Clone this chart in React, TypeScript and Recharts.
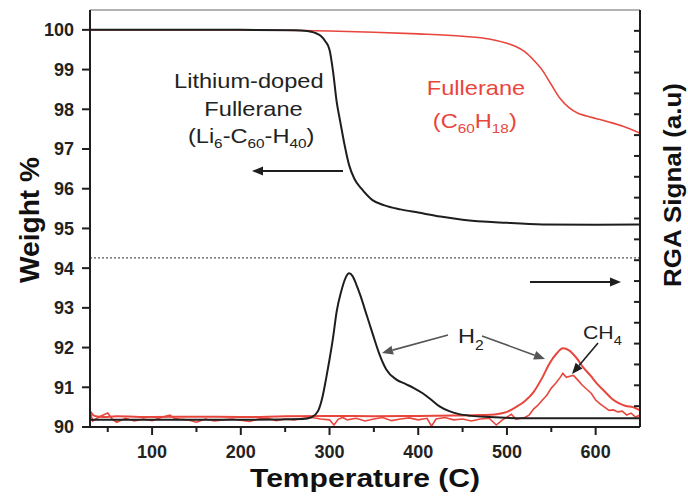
import { LineChart, Line, XAxis, YAxis, ReferenceLine } from "recharts";

// TGA weight loss, Li-doped fullerane (black)
const liTgaT = [30, 100, 200, 260, 275, 283, 290, 295, 300, 304, 308, 312, 317, 322, 328, 336, 348, 362, 380, 400, 425, 450, 500, 540, 600, 650];
const liTgaW = [100, 100, 100, 99.99, 99.97, 99.93, 99.85, 99.72, 99.5, 98.95, 98.2, 97.7, 97.1, 96.6, 96.25, 96.0, 95.72, 95.58, 95.48, 95.4, 95.3, 95.22, 95.14, 95.1, 95.09, 95.1];

// TGA weight loss, fullerane C60H18 (red)
const fuTgaT = [30, 150, 250, 300, 350, 400, 450, 480, 500, 510, 520, 530, 540, 550, 560, 570, 580, 590, 600, 615, 630, 650];
const fuTgaW = [100, 100, 99.99, 99.97, 99.94, 99.9, 99.84, 99.77, 99.66, 99.58, 99.45, 99.24, 98.98, 98.62, 98.27, 98.04, 97.9, 97.83, 97.77, 97.68, 97.58, 97.4];

// RGA H2 signal, Li-doped (black)
const liH2T = [30, 100, 200, 270, 280, 287, 292, 296, 300, 304, 308, 313, 318, 322, 326, 330, 335, 340, 345, 350, 356, 364, 375, 386, 395, 405, 415, 424, 435, 445, 460, 480, 520, 650];
const liH2S = [90.18, 90.18, 90.18, 90.2, 90.25, 90.4, 90.75, 91.2, 91.7, 92.25, 92.9, 93.4, 93.75, 93.87, 93.8, 93.6, 93.3, 92.95, 92.6, 92.25, 91.85, 91.45, 91.2, 91.08, 90.98, 90.85, 90.68, 90.52, 90.4, 90.33, 90.28, 90.25, 90.22, 90.22];

// RGA H2 signal, fullerane (red)
const fuH2T = [30, 35, 45, 60, 100, 150, 200, 250, 300, 350, 400, 440, 470, 490, 500, 510, 520, 530, 540, 548, 556, 563, 570, 578, 586, 594, 602, 610, 618, 626, 634, 642, 650];
const fuH2S = [90.4, 90.28, 90.25, 90.27, 90.25, 90.26, 90.25, 90.27, 90.28, 90.27, 90.28, 90.29, 90.3, 90.33, 90.38, 90.5, 90.65, 90.88, 91.25, 91.6, 91.85, 91.98, 91.93, 91.75, 91.5, 91.3, 91.08, 90.9, 90.72, 90.6, 90.53, 90.5, 90.42];

// RGA CH4 signal, fullerane (red, noisy)
const fuCh4T = [30, 33, 40, 50, 55, 60, 70, 80, 90, 100, 110, 120, 125, 130, 140, 150, 160, 170, 180, 190, 200, 210, 220, 230, 240, 250, 260, 270, 280, 290, 300, 305, 310, 315, 320, 330, 340, 350, 360, 370, 380, 390, 400, 410, 415, 420, 430, 440, 450, 460, 470, 480, 488, 495, 500, 505, 510, 520, 525, 530, 535, 540, 545, 550, 555, 560, 563, 567, 571, 575, 580, 585, 590, 595, 600, 605, 610, 615, 620, 625, 630, 635, 640, 645, 650];
const fuCh4S = [90.4, 90.15, 90.25, 90.35, 90.2, 90.12, 90.22, 90.15, 90.2, 90.16, 90.24, 90.3, 90.22, 90.2, 90.18, 90.12, 90.2, 90.15, 90.18, 90.2, 90.17, 90.14, 90.2, 90.22, 90.16, 90.2, 90.18, 90.22, 90.24, 90.2, 90.18, 90.05, 90.2, 90.24, 90.18, 90.22, 90.15, 90.2, 90.24, 90.16, 90.2, 90.23, 90.18, 90.22, 90.02, 90.2, 90.24, 90.18, 90.2, 90.15, 90.2, 90.22, 90.05, 90.18, 90.25, 90.32, 90.2, 90.24, 90.3, 90.45, 90.55, 90.68, 90.8, 90.98, 91.1, 91.25, 91.35, 91.25, 91.28, 91.3, 91.18, 91.05, 90.95, 90.85, 90.68, 90.58, 90.5, 90.42, 90.43, 90.38, 90.4, 90.3, 90.35, 90.25, 90.3];

const xTicks = [50, 100, 150, 200, 250, 300, 350, 400, 450, 500, 550, 600];
const wTicks = [90, 90.5, 91, 91.5, 92, 92.5, 93, 93.5, 94, 94.5, 95, 95.5, 96, 96.5, 97, 97.5, 98, 98.5, 99, 99.5, 100];
// unlabelled RGA axis ticks (arbitrary units)
const rgaTicks = [90.525, 91.05, 91.575, 92.1, 92.625, 93.15, 93.675, 94.2, 94.725, 95.25, 95.775, 96.3, 96.825, 97.35, 97.875, 98.4, 98.925, 99.45, 99.975];

const zip = (t: number[], v: number[]) => t.map((x, i) => ({ t: x, v: v[i] }));

const RED = "#e8463d";
const INK = "#1e1e1e";
const FONT = "Arial, 'Liberation Sans', sans-serif";

const XTick = ({ x, y, payload }: any) => {
  const v = payload.value;
  const major = v % 100 === 0;
  const ay = y - 18;
  return (
    <g>
      <line x1={x} x2={x} y1={ay} y2={ay + (major ? 8 : 5)} stroke={INK} strokeWidth={2} />
      {major && (
        <text x={x} y={y} dy="0.71em" textAnchor="middle" fontFamily={FONT} fontWeight="bold" fontSize={18} fill="#222">
          {v}
        </text>
      )}
    </g>
  );
};

const WTick = ({ x, y, payload }: any) => {
  const v = payload.value;
  const major = Number.isInteger(v);
  const ax = x + 16;
  return (
    <g>
      <line x1={ax} x2={ax - (major ? 8 : 5)} y1={y} y2={y} stroke={INK} strokeWidth={2} />
      {major && (
        <text x={x} y={y} dy="0.36em" textAnchor="end" fontFamily={FONT} fontWeight="bold" fontSize={18} fill="#222">
          {v}
        </text>
      )}
    </g>
  );
};

// right axis ticks point inward; label x sits tickMargin right of the axis
const RTick = ({ x, y }: any) => {
  const ax = x - 4;
  return (
    <g>
      <line x1={ax} x2={ax - 6} y1={y} y2={y} stroke={INK} strokeWidth={2} />
    </g>
  );
};

const Arrow = ({ x1, y1, x2, y2, color, w = 2 }: any) => {
  const a = Math.atan2(y2 - y1, x2 - x1);
  const L = 11, H = 4.5;
  const bx = x2 - L * Math.cos(a), by = y2 - L * Math.sin(a);
  const px = -Math.sin(a) * H, py = Math.cos(a) * H;
  return (
    <g>
      <line x1={x1} y1={y1} x2={bx} y2={by} stroke={color} strokeWidth={w} />
      <polygon points={`${x2},${y2} ${bx + px},${by + py} ${bx - px},${by - py}`} fill={color} />
    </g>
  );
};

// the source figure is a bit stretched horizontally
const Wide = ({ cx, k = 1.18, children }: any) => (
  <g transform={`matrix(${k},0,0,1,${cx * (1 - k)},0)`}>{children}</g>
);

const Overlay = () => (
  <svg width={688} height={496} style={{ position: "absolute", left: 0, top: 0, pointerEvents: "none" }}>
    <Wide cx={250}>
      <g fontFamily={FONT} fontSize={20} fill="#222" textAnchor="middle">
        <text x={249} y={88}>Lithium-doped</text>
        <text x={253} y={116}>Fullerane</text>
        <text x={251} y={143}>
          (Li<tspan fontSize={13} dy={5}>6</tspan>
          <tspan dy={-5}>-C</tspan>
          <tspan fontSize={13} dy={5}>60</tspan>
          <tspan dy={-5}>-H</tspan>
          <tspan fontSize={13} dy={5}>40</tspan>
          <tspan dy={-5}>)</tspan>
        </text>
      </g>
    </Wide>
    <Wide cx={476}>
      <g fontFamily={FONT} fontSize={20} fill={RED} textAnchor="middle">
        <text x={476} y={95}>Fullerane</text>
        <text x={475} y={128}>
          (C<tspan fontSize={13} dy={5}>60</tspan>
          <tspan dy={-5}>H</tspan>
          <tspan fontSize={13} dy={5}>18</tspan>
          <tspan dy={-5}>)</tspan>
        </text>
      </g>
    </Wide>
    <Arrow x1={343} y1={171} x2={252} y2={171} color={INK} />
    <Arrow x1={530} y1={282} x2={621} y2={282} color={INK} />
    <Wide cx={458} k={1.12}>
      <text x={458} y={343} fontFamily={FONT} fontSize={21} fill="#222">
        H<tspan fontSize={14} dy={7}>2</tspan>
      </text>
    </Wide>
    <Arrow x1={448} y1={335} x2={382} y2={353} color="#555" w={1.6} />
    <Arrow x1={482} y1={336} x2={545} y2={359} color="#555" w={1.6} />
    <Wide cx={583} k={1.12}>
      <text x={583} y={339} fontFamily={FONT} fontSize={19} fill="#222">
        CH<tspan fontSize={13} dy={6}>4</tspan>
      </text>
    </Wide>
    <Arrow x1={598} y1={343} x2={572} y2={374} color={INK} w={1.6} />
    <text x={365} y={487} textAnchor="middle" fontFamily={FONT} fontWeight="bold" fontSize={26} fill="#111" textLength={230} lengthAdjust="spacingAndGlyphs">
      Temperature (C)
    </text>
    <text transform="translate(39,220) rotate(-90)" textAnchor="middle" fontFamily={FONT} fontWeight="bold" fontSize={27} fill="#111" textLength={126} lengthAdjust="spacingAndGlyphs">
      Weight %
    </text>
    <text transform="translate(681,185) rotate(-90)" textAnchor="middle" fontFamily={FONT} fontWeight="bold" fontSize={24} fill="#111" textLength={204} lengthAdjust="spacingAndGlyphs">
      RGA Signal (a.u)
    </text>
  </svg>
);

export default function App() {
  return (
    <div style={{ position: "absolute", left: 0, top: 0, width: 688, height: 496, background: "#fff" }}>
      <LineChart width={688} height={496} margin={{ top: 10, right: 18, bottom: 29, left: 30 }}>
        <XAxis
          type="number"
          dataKey="t"
          domain={[30, 650]}
          ticks={xTicks}
          allowDataOverflow
          height={40}
          tickLine={false}
          tickSize={0}
          tickMargin={18}
          tick={(p: any) => <XTick {...p} />}
          axisLine={{ stroke: INK, strokeWidth: 2 }}
        />
        <YAxis
          yAxisId="w"
          type="number"
          domain={[90, 100.5]}
          ticks={wTicks}
          allowDataOverflow
          width={60}
          tickLine={false}
          tickSize={0}
          tickMargin={16}
          tick={(p: any) => <WTick {...p} />}
          axisLine={{ stroke: INK, strokeWidth: 2 }}
        />
        <YAxis
          yAxisId="r"
          orientation="right"
          type="number"
          domain={[90, 100.5]}
          ticks={rgaTicks}
          interval={0}
          allowDataOverflow
          width={30}
          tickLine={false}
          tickSize={0}
          tickMargin={4}
          tick={(p: any) => <RTick {...p} />}
          axisLine={{ stroke: INK, strokeWidth: 2 }}
        />
        <ReferenceLine yAxisId="w" y={100.5} stroke="#9a9a9a" strokeWidth={1.5} />
        <ReferenceLine yAxisId="w" y={94.26} stroke="#555" strokeWidth={1.2} strokeDasharray="2 2" />
        <Line yAxisId="w" data={zip(fuTgaT, fuTgaW)} dataKey="v" type="monotone" stroke={RED} strokeWidth={1.6} dot={false} isAnimationActive={false} />
        <Line yAxisId="r" data={zip(fuCh4T, fuCh4S)} dataKey="v" type="linear" stroke={RED} strokeWidth={1.6} dot={false} isAnimationActive={false} />
        <Line yAxisId="r" data={zip(fuH2T, fuH2S)} dataKey="v" type="monotone" stroke={RED} strokeWidth={2} dot={false} isAnimationActive={false} />
        <Line yAxisId="r" data={zip(liH2T, liH2S)} dataKey="v" type="monotone" stroke={INK} strokeWidth={2} dot={false} isAnimationActive={false} />
        <Line yAxisId="w" data={zip(liTgaT, liTgaW)} dataKey="v" type="monotone" stroke={INK} strokeWidth={2} dot={false} isAnimationActive={false} />
      </LineChart>
      <Overlay />
    </div>
  );
}
